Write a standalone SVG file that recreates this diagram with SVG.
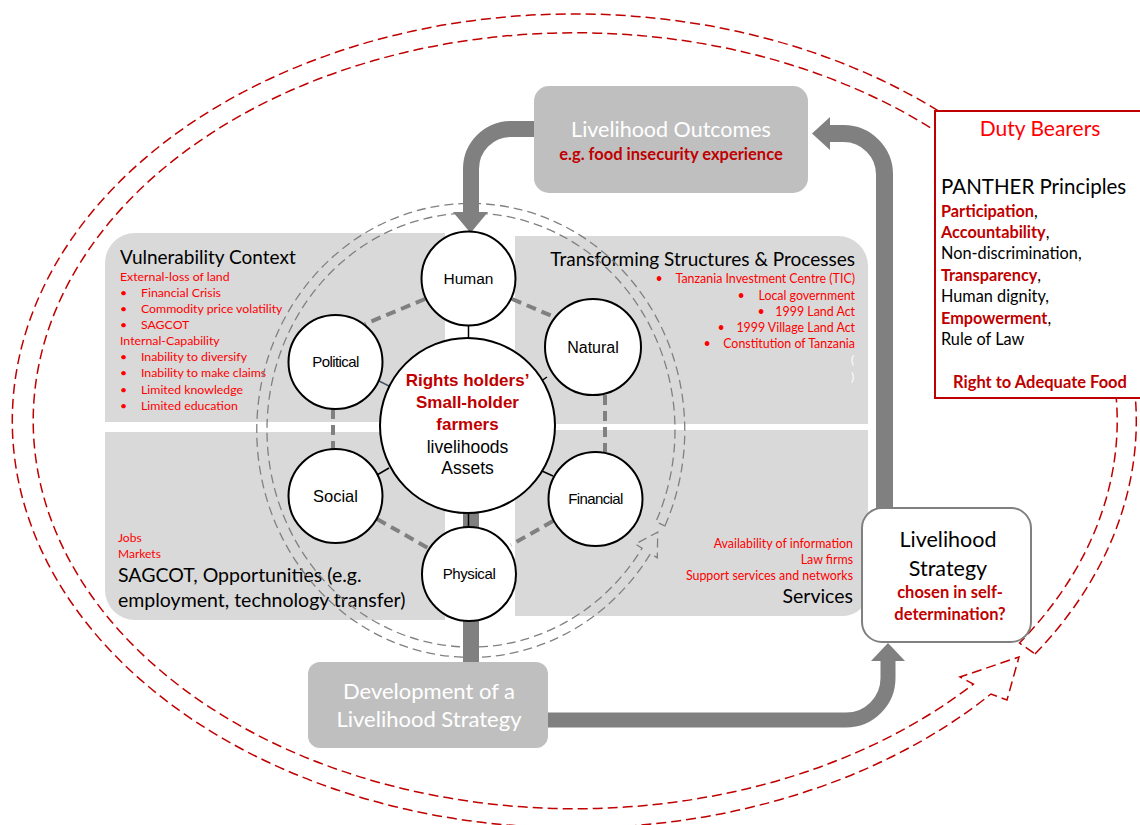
<svg xmlns="http://www.w3.org/2000/svg" width="1140" height="825" viewBox="0 0 1140 825">
<style>
.panel{fill:#d9d9d9}
.cal{font-family:Lato,"Open Sans","Liberation Sans",sans-serif}
.ari{font-family:"Liberation Sans",Arial,sans-serif}
.red{fill:#ff0000}
.dred{fill:#c00000}
.blk{fill:#000}
.wht{fill:#fff}
.b{font-weight:bold}
.circ{fill:#fff;stroke:#000;stroke-width:2}
.dlink{stroke:#808080;stroke-width:4;stroke-dasharray:10 6;fill:none}
.slink{stroke:#000;stroke-width:1.5;fill:none}
.garrow{stroke:#808080;fill:none}
.ghead{fill:#808080}
.gring{fill:none;stroke:#808080;stroke-width:1.3;stroke-dasharray:9 5}
.rring{fill:none;stroke:#c00000;stroke-width:1.5;stroke-dasharray:10 5}
</style>
<rect width="1140" height="825" fill="#fff"/>

<g id="panels">
<path class="panel" d="M105 263 A30 30 0 0 1 135 233 L445 233 L445 422 L105 422 Z"/>
<path class="panel" d="M105 432 L445 432 L445 620 L135 620 A30 30 0 0 1 105 590 Z"/>
<path class="panel" d="M515 236 L838 236 A30 30 0 0 1 868 266 L868 424 L515 424 Z"/>
<path class="panel" d="M515 430 L868 430 L868 591 A25 25 0 0 1 843 616 L515 616 Z"/>
</g>

<g id="panel-texts" class="cal">
<text x="120" y="264" font-size="19" class="blk">Vulnerability Context</text>
<g font-size="12.3" class="red">
<text x="120" y="281">External-loss of land</text>
<text x="120" y="297">•</text><text x="141" y="297">Financial Crisis</text>
<text x="120" y="313">•</text><text x="141" y="313">Commodity price volatility</text>
<text x="120" y="329">•</text><text x="141" y="329">SAGCOT</text>
<text x="120" y="345">Internal-Capability</text>
<text x="120" y="361">•</text><text x="141" y="361">Inability to diversify</text>
<text x="120" y="377">•</text><text x="141" y="377">Inability to make claims</text>
<text x="120" y="394">•</text><text x="141" y="394">Limited knowledge</text>
<text x="120" y="410">•</text><text x="141" y="410">Limited education</text>
</g>
<text x="855" y="266" font-size="19" text-anchor="end" class="blk">Transforming Structures &amp; Processes</text>
<g font-size="12.4" class="red" text-anchor="end">
<text x="855" y="283">Tanzania Investment Centre (TIC)</text>
<text x="855" y="300">Local government</text>
<text x="855" y="316">1999 Land Act</text>
<text x="855" y="332">1999 Village Land Act</text>
<text x="855" y="348">Constitution of Tanzania</text>
</g>
<g font-size="12.4" class="red" text-anchor="middle">
<text x="659" y="283">•</text>
<text x="741" y="300">•</text>
<text x="761" y="316">•</text>
<text x="721" y="332">•</text>
<text x="707" y="348">•</text>
</g>
<text x="851" y="364" font-size="12" class="wht">(</text>
<text x="851" y="381" font-size="12" class="wht">)</text>
<g font-size="12" class="red">
<text x="118" y="542">Jobs</text>
<text x="118" y="558">Markets</text>
</g>
<text x="118" y="582" font-size="19.5" class="blk">SAGCOT, Opportunities (e.g.</text>
<text x="118" y="607" font-size="19.5" class="blk">employment, technology transfer)</text>
<g font-size="12.4" class="red" text-anchor="end">
<text x="853" y="548">Availability of information</text>
<text x="853" y="564">Law firms</text>
<text x="853" y="580">Support services and networks</text>
</g>
<text x="853" y="603" font-size="19.5" text-anchor="end" class="blk">Services</text>
</g>

<g id="red-ring">
<path class="rring" d="M1035 654 A562 407 0 1 0 991 694 L1007 700 L1019 657 L960 677 L973.4 684 A542 388 0 1 1 1019.5 643 Z"/>
</g>

<g id="gray-ring">
<path class="gring" d="M664.9 525.9 A214 227 0 1 0 650.5 553.6 L657.3 557.8 L657.7 532.2 L635.3 544 L642.1 548.2 A204 217 0 1 1 655.9 521.7 Z"/>
</g>

<g id="connectors">
<path class="garrow" stroke-width="16" d="M536 129 L511 129 A40 40 0 0 0 471 169 L471 213"/>
<polygon class="ghead" points="453,212 488,212 470.5,233"/>
<path class="garrow" stroke-width="17" d="M884.5 512 L884.5 175 A41 41 0 0 0 843.5 133.5 L829 133.5"/>
<polygon class="ghead" points="830,117 830,150 812,133.5"/>
<path class="garrow" stroke-width="15" d="M546 720 L846 720 A42 42 0 0 0 888 678 L888 660"/>
<polygon class="ghead" points="871,661 905,661 888,643"/>
<rect x="463" y="500" width="16" height="164" class="ghead"/>
<line class="dlink" x1="425" y1="299" x2="365" y2="324"/>
<line class="dlink" x1="512" y1="299" x2="566" y2="322"/>
<line class="dlink" x1="333" y1="409" x2="333" y2="449"/>
<line class="dlink" x1="605" y1="395" x2="605" y2="452"/>
<line class="dlink" x1="377" y1="519" x2="428" y2="548"/>
<line class="dlink" x1="553" y1="521" x2="511" y2="545"/>
<line class="slink" x1="468.5" y1="325" x2="468.5" y2="338"/>
<line stroke="#44546a" stroke-width="1.5" x1="379" y1="381" x2="391" y2="387"/>
<line class="slink" x1="547" y1="377" x2="534" y2="386"/>
<line class="slink" x1="377" y1="475" x2="389" y2="468"/>
<line class="slink" x1="553" y1="476" x2="542" y2="471"/>
<line class="slink" x1="468.5" y1="513" x2="468.5" y2="527"/>
</g>

<g id="node-center">
<circle class="circ" cx="467.5" cy="425.5" r="87.5"/>
<g class="ari" text-anchor="middle" font-size="17.5">
<text x="467.5" y="386" class="dred b" font-size="17">Rights holders’</text>
<text x="467.5" y="408" class="dred b" font-size="17">Small-holder</text>
<text x="467.5" y="430" class="dred b" font-size="17">farmers</text>
<text x="467.5" y="453" class="blk">livelihoods</text>
<text x="467.5" y="474" class="blk">Assets</text>
</g>
</g>
<g id="node-human">
<circle class="circ" cx="468.5" cy="278.5" r="47"/>
<text class="ari" x="468.5" y="284" font-size="15.5" text-anchor="middle">Human</text>
</g>
<g id="node-natural">
<circle class="circ" cx="593" cy="347" r="48"/>
<text class="ari" x="593" y="353" font-size="16" text-anchor="middle">Natural</text>
</g>
<g id="node-political">
<circle class="circ" cx="335.5" cy="362" r="47"/>
<text class="ari" x="335.5" y="367" font-size="15" letter-spacing="-0.6" text-anchor="middle">Political</text>
</g>
<g id="node-social">
<circle class="circ" cx="335.5" cy="496" r="47"/>
<text class="ari" x="335.5" y="502" font-size="16.5" text-anchor="middle">Social</text>
</g>
<g id="node-financial">
<circle class="circ" cx="595.5" cy="499" r="47"/>
<text class="ari" x="595.5" y="504" font-size="15" letter-spacing="-0.6" text-anchor="middle">Financial</text>
</g>
<g id="node-physical">
<circle class="circ" cx="469" cy="574" r="47"/>
<text class="ari" x="469" y="579" font-size="15" letter-spacing="-0.4" text-anchor="middle">Physical</text>
</g>

<g id="node-outcomes">
<rect x="534" y="86" width="274" height="107" rx="15" fill="#bfbfbf"/>
<text class="cal wht" x="671" y="137" font-size="21.5" text-anchor="middle">Livelihood Outcomes</text>
<text class="cal dred b" x="671" y="160" font-size="16.5" text-anchor="middle">e.g. food insecurity experience</text>
</g>

<g id="node-development">
<rect x="308" y="662" width="240" height="86" rx="12" fill="#bfbfbf"/>
<text class="cal wht" x="429" y="699" font-size="22" text-anchor="middle">Development of a</text>
<text class="cal wht" x="429" y="727" font-size="22" text-anchor="middle">Livelihood Strategy</text>
</g>

<g id="node-strategy">
<rect x="862" y="508" width="169" height="134" rx="20" fill="#fff" stroke="#808080" stroke-width="2"/>
<text class="cal blk" x="948" y="547" font-size="21.5" text-anchor="middle">Livelihood</text>
<text class="cal blk" x="948" y="576" font-size="21.5" text-anchor="middle">Strategy</text>
<text class="cal dred b" x="950" y="598" font-size="16.5" text-anchor="middle">chosen in self-</text>
<text class="cal dred b" x="950" y="620" font-size="16.5" text-anchor="middle">determination?</text>
</g>

<g id="node-duty-bearers">
<rect x="935" y="111" width="215" height="287" fill="#fff" stroke="#c00000" stroke-width="2"/>
<text class="cal red" x="1040" y="136" font-size="21" text-anchor="middle">Duty Bearers</text>
<text class="cal blk" x="941" y="194" font-size="20.5">PANTHER Principles</text>
<g class="cal" font-size="16.3">
<text x="941" y="217"><tspan class="dred b">Participation</tspan><tspan class="blk">,</tspan></text>
<text x="941" y="238"><tspan class="dred b">Accountability</tspan><tspan class="blk">,</tspan></text>
<text x="941" y="259" class="blk">Non-discrimination,</text>
<text x="941" y="281"><tspan class="dred b">Transparency</tspan><tspan class="blk">,</tspan></text>
<text x="941" y="302" class="blk">Human dignity,</text>
<text x="941" y="324"><tspan class="dred b">Empowerment</tspan><tspan class="blk">,</tspan></text>
<text x="941" y="345" class="blk">Rule of Law</text>
</g>
<text class="cal dred b" x="1040" y="388" font-size="16.5" text-anchor="middle">Right to Adequate Food</text>
</g>
</svg>
